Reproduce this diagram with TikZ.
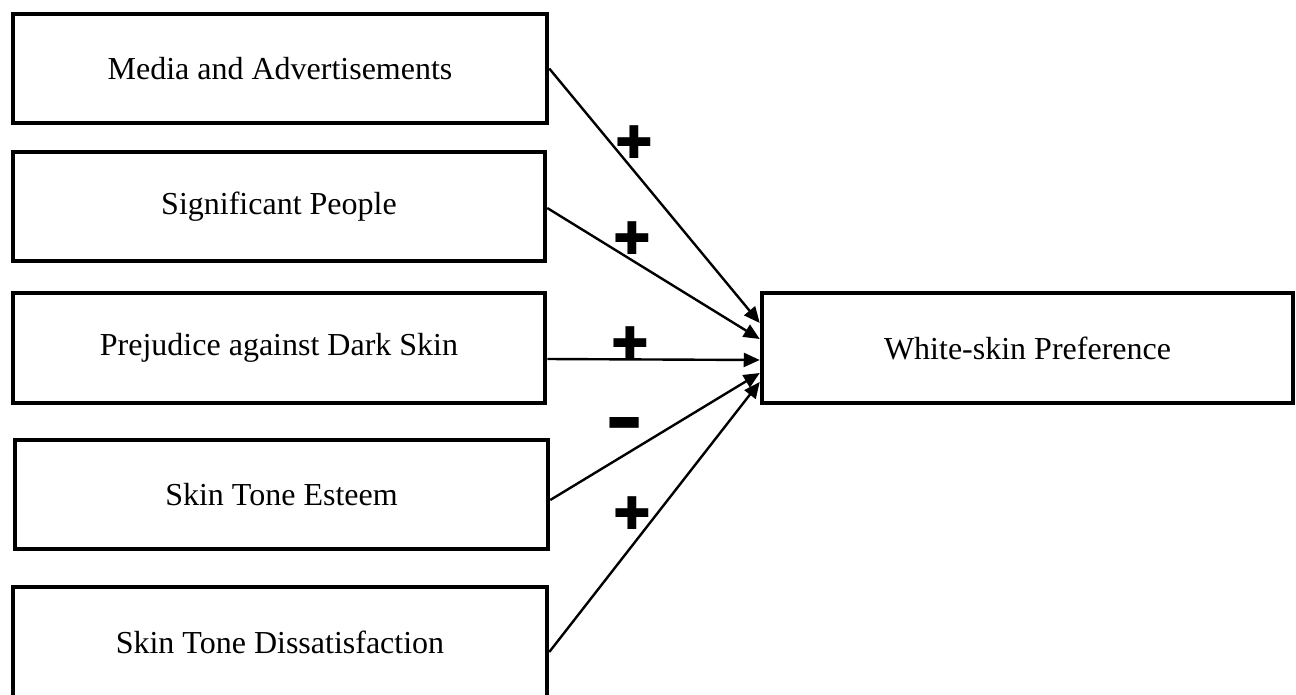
\documentclass[tikz,border=0pt]{standalone}
\usepackage{fontspec}
\setmainfont{Liberation Serif}
\newfontfamily\symfont{DejaVu Sans}
\usetikzlibrary{arrows.meta}
\begin{document}
\begin{tikzpicture}[x=1pt,y=-1pt,
  box/.style={draw, line width=4.5pt, inner sep=0pt, anchor=center,
    font=\fontsize{32}{38}\selectfont},
  link/.style={line width=2.4pt, -{Triangle[length=16pt,width=14pt]}},
  sign/.style={font=\symfont\fontsize{45}{45}\selectfont, inner sep=0pt}]
\useasboundingbox (0,0) rectangle (1296,694);
\clip (0,0) rectangle (1296,694);
\node[box, minimum width=534pt, minimum height=109pt] (m) at (280,68.5) {Media and Advertisements};
\node[box, minimum width=532pt, minimum height=109pt] (s) at (279,206.5) {Significant People};
\node[box, minimum width=532pt, minimum height=110pt] (p) at (279,348) {Prejudice against Dark Skin};
\node[box, minimum width=533pt, minimum height=109pt] (e) at (281.5,494.5) {Skin Tone Esteem};
\node[box, minimum width=534pt, minimum height=110pt] (d) at (280,642) {Skin Tone Dissatisfaction};
\node[box, minimum width=531pt, minimum height=110pt] (t) at (1027.5,348) {White-skin Preference};
\draw[link] (m.east) -- ([yshift=25pt]t.west);
\draw[link] ([yshift=-1.5pt]s.east) -- ([yshift=9pt]t.west);
\draw[link] ([yshift=-11pt]p.east) -- ([yshift=-12pt]t.west);
\draw[link] ([yshift=-5.5pt]e.east) -- ([yshift=-25pt]t.west);
\draw[link] ([yshift=-10pt]d.east) -- ([yshift=-34pt]t.west);
\node[sign] (g1) at (634,142) {✚};
\node[sign] (g2) at (632,238) {✚};
\node[sign] (g3) at (630,343) {✚};
\node[sign] (g4) at (625,423.5) {\scalebox{0.85}[0.65]{▬}};
\node[sign] (g5) at (632,513) {✚};
\end{tikzpicture}
\end{document}
